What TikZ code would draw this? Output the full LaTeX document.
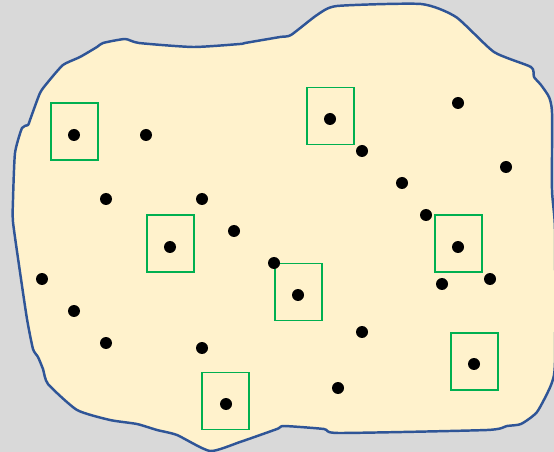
\documentclass[tikz,border=0pt]{standalone}
\usepackage{tikz}
\usetikzlibrary{positioning}
\definecolor{bggray}{HTML}{D9D9D9}
\definecolor{cream}{HTML}{FFF2CC}
\definecolor{navy}{HTML}{2F5597}
\definecolor{leaf}{HTML}{00B050}

\begin{document}
\begin{tikzpicture}[x=0.02cm, y=-0.02cm,
    pt/.style={circle, fill=black, inner sep=0pt, minimum size=0.24cm},
    core/.style={draw=leaf, line width=1.1pt, inner sep=0pt, minimum width=0.94cm, minimum height=1.14cm}]
% Background
\fill[bggray] (0,0) rectangle (554,452);
\useasboundingbox (0,0) rectangle (554,452);

% Region outline
\draw[navy, fill=cream, line width=1.4pt, line join=round]
    plot[smooth cycle, tension=0.35] coordinates {
    (125,39) (139,43) (193,47) (240,44) (245,43) (280,37) (291,35)
    (317,15) (337,6) (421,4) (456,17) (494,52) (531,67) (534,77)
    (541,85) (549,97) (552,113) (552,190) (555,230) (555,362)
    (551,385) (537,412) (521,424) (507,426) (487,430) (339,433)
    (324,429) (284,426) (277,429) (240,442) (210,451) (177,435)
    (157,430) (137,424) (110,420) (77,410) (48,384) (43,369)
    (38,357) (33,349) (27,319) (20,272) (13,222) (13,200) (15,153)
    (22,128) (28,125) (30,120) (40,93) (48,82) (63,65) (80,57)
    (97,47) (103,43)};

% Boxes
\node[core] (b1) at (74.5,131.5) {};
\node[core] (b2) at (170.5,243.5) {};
\node[core] (b3) at (225.5,401) {};
\node[core] (b4) at (298.5,292) {};
\node[core] (b5) at (330.5,116) {};
\node[core] (b6) at (458.5,243.5) {};
\node[core] (b7) at (474.5,361.5) {};

% Points
\node[pt] (p1) at (74,135) {};
\node[pt] (p2) at (146,135) {};
\node[pt] (p3) at (106,199) {};
\node[pt] (p4) at (202,199) {};
\node[pt] (p5) at (170,247) {};
\node[pt] (p6) at (234,231) {};
\node[pt] (p7) at (42,279) {};
\node[pt] (p8) at (74,311) {};
\node[pt] (p9) at (106,343) {};
\node[pt] (p10) at (202,348) {};
\node[pt] (p11) at (226,404) {};
\node[pt] (p12) at (274,263) {};
\node[pt] (p13) at (298,295) {};
\node[pt] (p14) at (330,119) {};
\node[pt] (p15) at (362,151) {};
\node[pt] (p16) at (402,183) {};
\node[pt] (p17) at (426,215) {};
\node[pt] (p18) at (458,103) {};
\node[pt] (p19) at (506,167) {};
\node[pt] (p20) at (458,247) {};
\node[pt] (p21) at (442,284) {};
\node[pt] (p22) at (490,279) {};
\node[pt] (p23) at (362,332) {};
\node[pt] (p24) at (338,388) {};
\node[pt] (p25) at (474,364) {};

\end{tikzpicture}
\end{document}
